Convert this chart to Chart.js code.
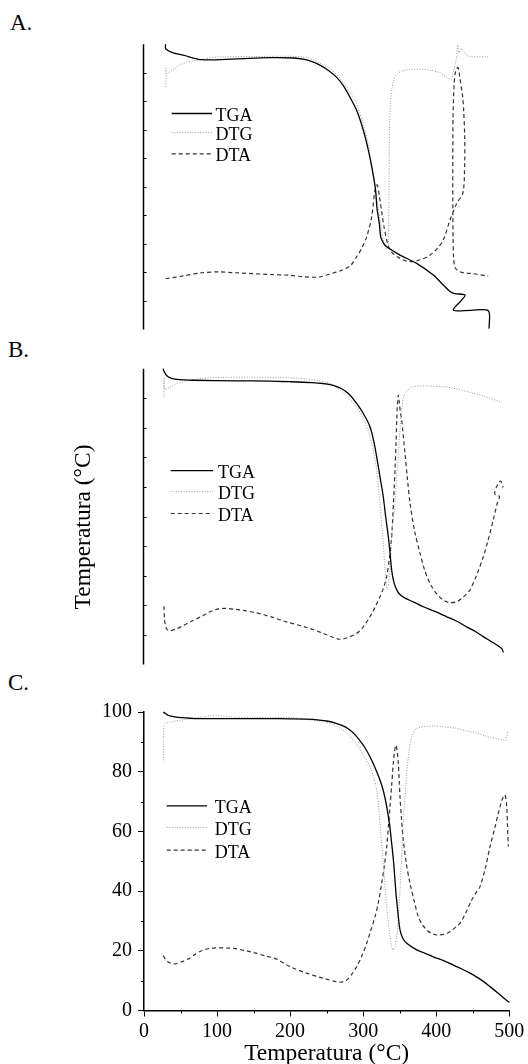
<!DOCTYPE html>
<html>
<head>
<meta charset="utf-8">
<script src="https://cdn.jsdelivr.net/npm/chart.js@4.4.1/dist/chart.umd.min.js"></script>
<style>
  html, body { margin: 0; padding: 0; background: #fff; }
  #page { position: relative; width: 528px; height: 1064px; overflow: hidden; font-family: 'Liberation Serif', 'Times New Roman', serif; color: #000; }
  canvas { position: absolute; left: 0; }
  .tag { position: absolute; font-size: 23px; line-height: 23px; }
</style>
</head>
<body>
<div id="page">
  <div class="tag" style="left:10px; top:11px;">A.</div>
  <div class="tag" style="left:8px; top:338px;">B.</div>
  <div class="tag" style="left:8px; top:671px;">C.</div>
  <canvas id="chartA" width="528" height="340" style="top:0px;"></canvas>
  <canvas id="chartB" width="528" height="340" style="top:330px;"></canvas>
  <canvas id="chartC" width="528" height="404" style="top:660px;"></canvas>
</div>
<script>
var seriesNames = ['TGA', 'DTG', 'DTA'];
var xTitle = 'Temperatura (°C)';
var yTitle = 'Temperatura (°C)';
var xTickVals = [0, 100, 200, 300, 400, 500];
var yTickVals = [0, 20, 40, 60, 80, 100];
var xMinorVals = [50, 150, 250, 350, 450];
var yMinorVals = [10, 30, 50, 70, 90];
var yInnerVals = [10, 20, 30, 40, 50, 60, 70, 80, 90];

// panel A  [temperature, value]
var tgaA = [[29.5,100],[29.7,98.4],[38,97.2],[53.8,96.2],[79.4,94.6],[125.5,94.9],[171.6,95.3],[205,95.2],[218,94.8],[230,93.9],[242,92.5],[253,90.7],[263.7,88.4],[273,85.4],[282.2,81.3],[291.4,76.6],[300.6,69.5],[307.5,62.4],[312.1,56.5],[316.7,49.4],[319,42.3],[322.1,37.2],[324,32.5],[328,30.2],[332.2,29],[350.4,26.1],[373.2,23.2],[396,19.1],[409.7,15.6],[418.8,13.3],[425,12.6],[439.4,12.1],[434.8,10.3],[423.4,6.8],[447,6.7],[471.3,6.6],[472.3,0.3]];
var dtgA = [[30,85.1],[30,91.6],[31,89.8],[42,91.5],[53.8,93.3],[79.4,94.7],[100,95.5],[150,95.7],[200,95.8],[225,95.2],[240,93.5],[255,91.5],[270,87.5],[284,82.5],[291,79.3],[300,72],[306,66],[311,59],[316,51],[320,44],[324,37],[328,31],[331.5,28],[334,29.5],[335,38],[335.5,55],[336,70],[337.5,80],[340.5,86],[346,89.5],[355,90.8],[370,91.3],[390,91],[405,90],[420.5,87.8],[424,91],[427.5,95],[429.5,99.8],[431,97],[434,98.6],[438,97.5],[445,95.8],[460,95.6],[471,95.6]];
var dtaA = [[29.7,17.8],[51.8,18.7],[79.4,19.9],[102.5,20.2],[125.5,19.9],[171.6,19.3],[199.8,19],[217.6,18.5],[240,18.4],[254.5,19.5],[268,20.5],[282.2,22.3],[291.1,25.5],[298,28.5],[304.8,32.5],[311.7,39.6],[316.2,48.9],[319.3,50.7],[322,47],[325.3,41.3],[328.9,35.5],[336.7,27.9],[350,25],[364.1,23.8],[380,24.6],[391.5,26.1],[401,28.3],[409.7,31.4],[418.8,38.4],[428,44.2],[436.6,48],[438.9,58],[438.9,68],[437.5,77],[436,82],[432.5,88],[429.7,91.9],[426.5,90.5],[424.5,86],[423,75],[422.7,60],[422.7,45],[423,33],[423.8,25],[426,21.6],[431,20.4],[438.9,19.8],[450,19.6],[471.1,18.7]];

// panel B
var tgaB = [[26.4,100],[27,99.3],[30.9,97.7],[36,96.9],[42.5,96.5],[55,96.2],[67.9,96.1],[125.5,95.9],[171.6,95.8],[199.8,95.6],[230,95.3],[245,95],[259,94.4],[270,93.3],[280,91.5],[291.1,88.3],[301,84.5],[309.3,80.4],[314,76],[318.5,70.2],[323,63.5],[327.5,56.7],[331,49.5],[334.4,43.2],[337,37],[339,31.9],[342,27.8],[345.9,25.2],[350,23.7],[357.2,22.4],[370,21],[382.3,19.5],[398,17.9],[414.3,16.1],[428,14.6],[441.7,12.7],[453,11.2],[464.4,9.4],[477,7.5],[489.6,5.4],[491.9,4]];
var dtgB = [[27.3,90.3],[27.5,96.8],[28.5,93],[35,93.7],[45,95],[60,96],[80,96.7],[100,97],[150,97.1],[200,96.9],[230,96.3],[254.6,95.1],[270,92.5],[282,89.5],[291.1,87.1],[300,83],[309.3,77],[314,72],[318.5,65.7],[323,54.5],[327.5,41],[329.9,31.9],[333.1,25.2],[336.7,31.9],[339,43.2],[343.5,54.5],[348.1,71.4],[352.7,86],[357.2,91.7],[368.6,93.9],[391.5,94.1],[410,93.9],[423.4,93.4],[450.7,91.7],[470,90.3],[487.3,88.8]];
var dtaB = [[27.3,19.7],[28,15.5],[30,12.5],[33,11.5],[36,11.4],[44,12],[52,12.9],[65,14.6],[79.4,16.3],[90,17.8],[102.5,18.8],[115,18.9],[125.5,18.6],[140,18.1],[153,17.5],[175,16],[194.6,14.4],[220,12.7],[245.4,10.5],[260,9],[268.3,8.5],[278,9],[291.1,10.5],[300,12.7],[309.3,16.1],[316,19.2],[323,22.9],[328,26],[332.2,29.7],[336,36],[339,43.2],[341.5,55],[343.5,65.7],[345,75],[345.9,82.7],[347,88.5],[348.1,91.1],[349.5,88.5],[351,85],[352.7,82.7],[357.2,71.4],[360.5,63],[364.1,54.5],[370.5,45],[377.8,37.6],[384,32],[391.5,27.4],[400,24],[409.7,21.8],[418,20.9],[428,21.2],[437,22.8],[446.2,25.2],[455,30],[464.4,36.4],[471,42],[478,48.8],[483.5,54.5],[486.5,56.8],[480,57.8],[484,60.8],[488,62],[491.5,59.8]];

// panel C
var tgaC = [[26.3,100],[30,99.4],[33.2,98.9],[42,98.4],[51.6,98.1],[70,97.8],[125.3,97.8],[171.4,97.8],[199.8,97.7],[222,97.6],[240,97.3],[252,96.9],[262,96.3],[271,95.5],[280,94.3],[288,92.6],[295,90.6],[302,88.2],[309.3,85],[316,81.5],[323,77.2],[328,73.2],[332.2,68.3],[336,62.5],[339,56],[341.5,50],[343.5,43.7],[345,39],[346.7,34.8],[348.5,30.5],[350.4,27],[354,24.3],[359.6,22.5],[373.2,20.3],[385,19.1],[396,18],[410,16.7],[423.4,15.2],[435,13.9],[446.2,12.5],[460,10.5],[473.6,8],[486,5.5],[498.7,2.9],[500,2.7]];
var dtgC = [[26.3,83.8],[26.5,90],[27,94.5],[28.6,96.1],[35,96.5],[47,97.2],[60,97.6],[79.3,98.3],[97.7,98.9],[110,98.5],[125.3,98.3],[150,98.2],[171.4,98.1],[199.8,98.2],[222,97.5],[245.4,96.8],[258,95.8],[268.3,94.6],[280,92.3],[291.1,89],[300,85.8],[309.3,81.7],[314,78.5],[318.5,73.9],[323,62.7],[327.5,49.3],[332.2,34.8],[336.7,24.7],[339,21.5],[341.2,20.3],[343.5,21.5],[345.9,24.7],[350.4,40.4],[354.9,62.7],[359.6,79.5],[363,87],[366.4,91.7],[373.2,94.5],[391.5,95.3],[410,95],[428,94.5],[440,93.8],[455.4,92.9],[470,91.8],[491.8,90.6],[494,90.3],[496.5,91.7],[497.8,93.4]];
var dtaC = [[26.3,18.4],[30,17],[35,16],[42.4,15.6],[50,16.2],[60.8,17.3],[70,18.8],[79.3,20.1],[90,20.8],[102.3,21],[115,20.9],[125.3,20.7],[140,20],[153,19.2],[166,18.3],[180.6,17.3],[199.8,14.7],[222.7,12.5],[245.4,10.8],[263.8,9.6],[270,9.5],[277.4,10.2],[284,12],[291.1,14.7],[298,18.2],[304.8,22.5],[310,26.5],[316.2,31.4],[321,36.5],[325.3,42.6],[329,48.5],[332.2,54.9],[334.5,61.5],[336.7,68.3],[339,75.5],[341.2,82.8],[343,87],[344.9,88.9],[346.5,87],[348.1,82.8],[349.3,77],[350.4,71.6],[352.5,64],[354.9,57.1],[359,49.3],[364.1,42.6],[370,36.5],[375.5,31.4],[381,28.8],[386.9,27],[393,25.9],[400.6,25.3],[410,25.5],[418.8,26.4],[425,27.6],[432.5,29.2],[440,32.5],[448.5,37],[454,39.3],[459.9,41.5],[467,47.5],[473.6,54.9],[480,61],[485,66.1],[490,70.5],[494.1,72.2],[496.5,68.3],[497.5,62],[498.7,54.9]];

var serif = 'Liberation Serif';

function toXY(arr) {
  return arr.map(function (p) { return { x: p[0], y: p[1] }; });
}

function makeSets(tga, dtg, dta) {
  return [
    { label: seriesNames[0], data: toXY(tga), borderColor: '#000', borderWidth: 1.3, borderDash: [], tension: 0.3, pointRadius: 0, clip: false },
    { label: seriesNames[1], data: toXY(dtg), borderColor: '#9a9a9a', borderWidth: 1, borderDash: [1, 1.6], tension: 0.3, pointRadius: 0, clip: false },
    { label: seriesNames[2], data: toXY(dta), borderColor: '#333', borderWidth: 1.2, borderDash: [4, 3], tension: 0.3, pointRadius: 0, clip: false }
  ];
}

// legend drawn inside the plot
var innerLegend = {
  id: 'innerLegend',
  afterDatasetsDraw: function (chart, args, opts) {
    var ctx = chart.ctx;
    ctx.save();
    chart.data.datasets.forEach(function (ds, i) {
      var y = opts.rows[i];
      ctx.beginPath();
      ctx.setLineDash(ds.borderDash || []);
      ctx.strokeStyle = ds.borderColor;
      ctx.lineWidth = ds.borderWidth;
      ctx.moveTo(opts.x0, y);
      ctx.lineTo(opts.x1, y);
      ctx.stroke();
      ctx.setLineDash([]);
      ctx.fillStyle = '#000';
      ctx.font = '18px "' + serif + '"';
      ctx.textBaseline = 'alphabetic';
      ctx.fillText(ds.label, opts.tx, y + 7.3);
    });
    ctx.restore();
  }
};

// left axis with short inward ticks (panels A and B), optional rotated title
var plainAxis = {
  id: 'plainAxis',
  afterDraw: function (chart, args, opts) {
    if (!opts.on) return;
    var ctx = chart.ctx, area = chart.chartArea, ys = chart.scales.y;
    var x = area.left - 0.5;
    ctx.save();
    ctx.strokeStyle = '#000';
    ctx.lineWidth = 1.5;
    ctx.beginPath();
    ctx.moveTo(x, area.top);
    ctx.lineTo(x, area.bottom);
    ctx.stroke();
    ctx.lineWidth = 1;
    yInnerVals.forEach(function (v) {
      var y = Math.round(ys.getPixelForValue(v)) + 0.5;
      ctx.beginPath();
      ctx.moveTo(x, y);
      ctx.lineTo(x + 3, y);
      ctx.stroke();
    });
    if (opts.title) {
      ctx.translate(opts.title.x, opts.title.y);
      ctx.rotate(-Math.PI / 2);
      ctx.fillStyle = '#000';
      ctx.font = '23.5px "' + serif + '"';
      ctx.textAlign = 'center';
      ctx.textBaseline = 'alphabetic';
      ctx.fillText(opts.title.text, 0, 0);
    }
    ctx.restore();
  }
};

// minor ticks on panel C
var minorTicks = {
  id: 'minorTicks',
  afterDraw: function (chart, args, opts) {
    if (!opts.on) return;
    var ctx = chart.ctx, area = chart.chartArea;
    ctx.save();
    ctx.strokeStyle = '#000';
    ctx.lineWidth = 1;
    xMinorVals.forEach(function (v) {
      var x = Math.round(chart.scales.x.getPixelForValue(v)) + 0.5;
      ctx.beginPath();
      ctx.moveTo(x, area.bottom);
      ctx.lineTo(x, area.bottom + 3);
      ctx.stroke();
    });
    yMinorVals.forEach(function (v) {
      var y = Math.round(chart.scales.y.getPixelForValue(v)) + 0.5;
      ctx.beginPath();
      ctx.moveTo(area.left, y);
      ctx.lineTo(area.left - 3, y);
      ctx.stroke();
    });
    ctx.restore();
  }
};

function bareOptions(pad, legend, title) {
  return {
    responsive: false,
    animation: false,
    layout: { padding: pad },
    plugins: {
      legend: { display: false },
      tooltip: { enabled: false },
      innerLegend: legend,
      plainAxis: { on: true, title: title },
      minorTicks: { on: false }
    },
    scales: {
      x: { type: 'linear', min: 0, max: 500, display: false },
      y: { min: 0, max: 100, display: false }
    }
  };
}

new Chart(document.getElementById('chartA').getContext('2d'), {
  type: 'line',
  data: { datasets: makeSets(tgaA, dtgA, dtaA) },
  options: bareOptions({ left: 144, right: 18.7, top: 44.3, bottom: 10.5 },
    { x0: 171.7, x1: 212, tx: 215.5, rows: [113.5, 132.7, 153.9] }, null),
  plugins: [innerLegend, plainAxis, minorTicks]
});

new Chart(document.getElementById('chartB').getContext('2d'), {
  type: 'line',
  data: { datasets: makeSets(tgaB, dtgB, dtaB) },
  options: bareOptions({ left: 144, right: 18.7, top: 38.7, bottom: 5.6 },
    { x0: 170.7, x1: 213, tx: 218, rows: [140.7, 161.6, 183.5] },
    { text: yTitle, x: 89.5, y: 197 }),
  plugins: [innerLegend, plainAxis, minorTicks]
});

new Chart(document.getElementById('chartC').getContext('2d'), {
  type: 'line',
  data: { datasets: makeSets(tgaC, dtgC, dtaC) },
  options: {
    responsive: false,
    animation: false,
    layout: { padding: { left: 0, right: 18.7, top: 52, bottom: 0 } },
    plugins: {
      legend: { display: false },
      tooltip: { enabled: false },
      innerLegend: { x0: 166.7, x1: 207, tx: 214.8, rows: [145.8, 167.3, 190.2] },
      plainAxis: { on: false },
      minorTicks: { on: true }
    },
    scales: {
      x: {
        type: 'linear', min: 0, max: 500,
        afterBuildTicks: function (s) { s.ticks = xTickVals.map(function (v) { return { value: v }; }); },
        afterFit: function (s) { s.height = 53.5; },
        ticks: { font: { family: serif, size: 20 }, color: '#000', padding: 3, maxRotation: 0, autoSkip: false },
        grid: { drawOnChartArea: false, tickLength: 6, tickColor: '#000', tickWidth: 1 },
        border: { color: '#000', width: 1.5 },
        title: { display: true, text: xTitle, color: '#000', font: { family: serif, size: 23.5, lineHeight: 0.85 }, padding: { top: 0, bottom: 0 } }
      },
      y: {
        min: 0, max: 100,
        afterBuildTicks: function (s) { s.ticks = yTickVals.map(function (v) { return { value: v }; }); },
        afterFit: function (s) { s.width = 144; },
        ticks: { font: { family: serif, size: 20 }, color: '#000', padding: 6 },
        grid: { drawOnChartArea: false, tickLength: 6, tickColor: '#000', tickWidth: 1 },
        border: { color: '#000', width: 1.5 }
      }
    }
  },
  plugins: [innerLegend, plainAxis, minorTicks]
});
</script>
</body>
</html>
